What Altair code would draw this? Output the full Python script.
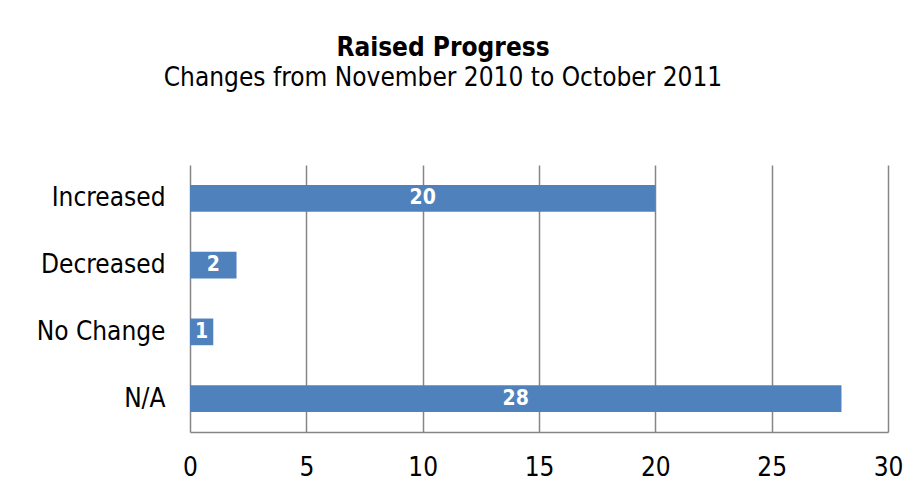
import altair as alt
import pandas as pd

categories = ["Increased", "Decreased", "No Change", "N/A"]
values = [20, 2, 1, 28]
x_ticks = [0, 5, 10, 15, 20, 25, 30]

df = pd.DataFrame({"category": categories, "value": values})

FONT = "DejaVu Sans Condensed"

y_enc = alt.Y("category:N", sort=categories, title=None,
              scale=alt.Scale(paddingInner=0.6, paddingOuter=0.3),
              axis=alt.Axis(labelFontSize=26, labelFont=FONT, labelColor="#000000",
                            labelPadding=25, ticks=False, domain=False, grid=False))
x_enc = alt.X("value:Q", title=None,
              scale=alt.Scale(domain=[0, 30], nice=False),
              axis=alt.Axis(values=x_ticks, labelFontSize=26, labelFont=FONT,
                            labelColor="#000000", labelPadding=22, ticks=False,
                            labelFlush=False,
                            domain=True, domainColor="#868686", domainWidth=1.5,
                            grid=True, gridColor="#868686", gridWidth=1.5))

bars = alt.Chart(df).mark_bar(color="#4F81BD").encode(x=x_enc, y=y_enc)

labels = alt.Chart(df).transform_calculate(mid="datum.value / 2").mark_text(
    color="white", fontWeight="bold", fontSize=21, font=FONT, baseline="middle", align="center"
).encode(
    x=alt.X("mid:Q"),
    y=alt.Y("category:N", sort=categories),
    text=alt.Text("value:Q"),
)

chart = alt.layer(bars, labels).properties(
    width=698,
    height=267,
    background="white",
    title=alt.TitleParams(
        text="Raised Progress",
        subtitle="Changes from November 2010 to October 2011",
        font=FONT, fontSize=26, fontWeight="bold", color="#000000",
        subtitleFont=FONT, subtitleFontSize=26, subtitleColor="#000000",
        subtitlePadding=4,
        anchor="middle", dx=-96, offset=74,
    ),
    padding={"left": 182, "top": 157, "right": 22, "bottom": 62},
    autosize=alt.AutoSizeParams(type="none"),
).configure_view(stroke=None)

chart.save("out.html", embed_options={"renderer": "svg", "actions": False})
